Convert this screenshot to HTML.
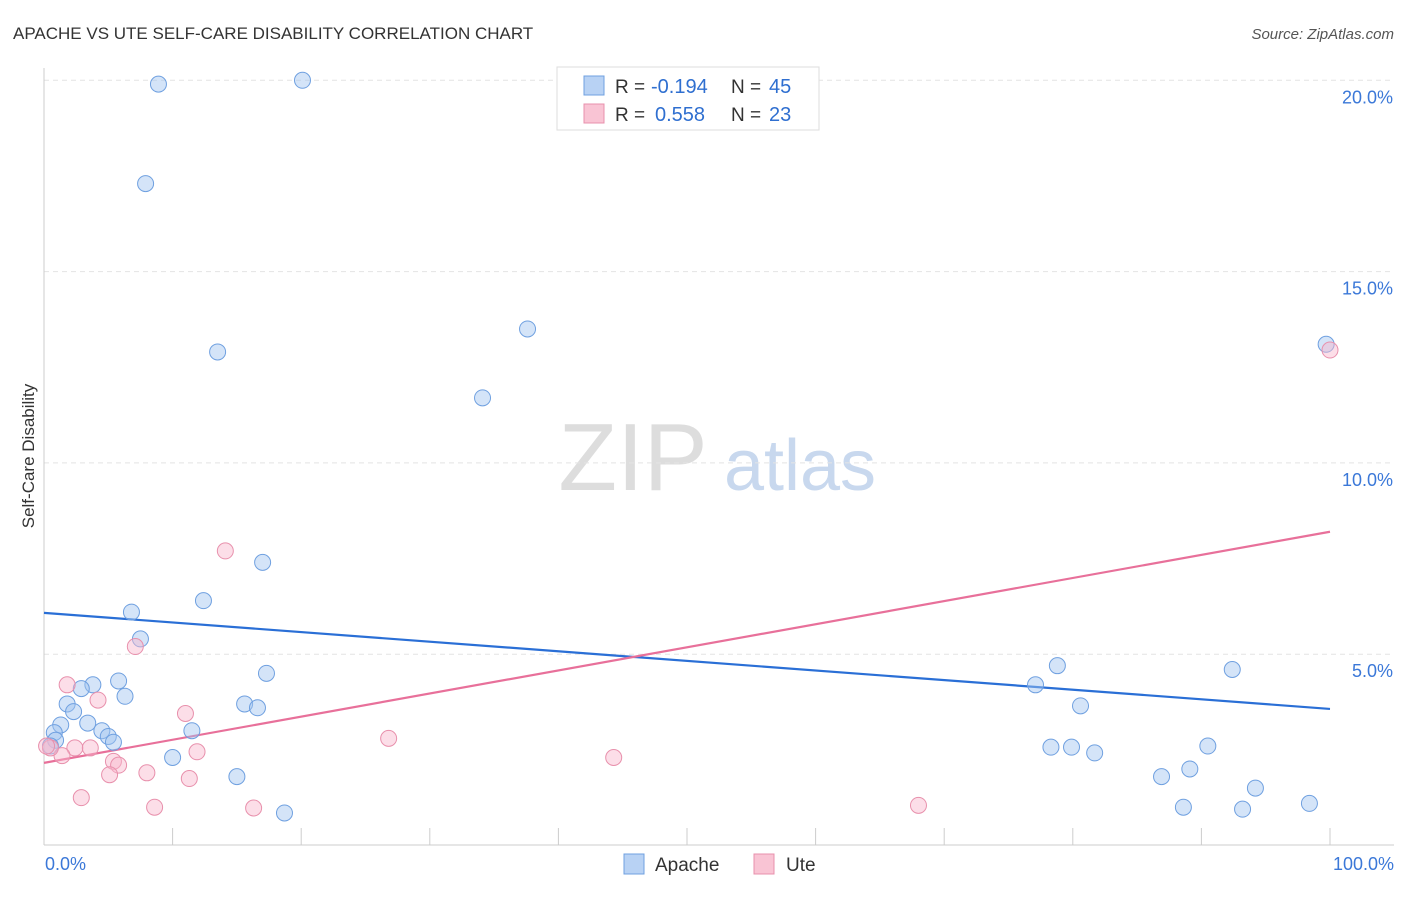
<!DOCTYPE html>
<html><head><meta charset="utf-8"><style>
body{margin:0;background:#fff;font-family:"Liberation Sans",sans-serif;}
svg text{font-family:"Liberation Sans",sans-serif;}
</style></head><body>
<svg id="c" width="1406" height="892" xmlns="http://www.w3.org/2000/svg">
<text x="13" y="39" font-size="17" fill="#333">APACHE VS UTE SELF-CARE DISABILITY CORRELATION CHART</text>
<text x="1394" y="39" font-size="15" font-style="italic" fill="#555" text-anchor="end">Source: ZipAtlas.com</text>
<text transform="translate(34,456) rotate(-90)" font-size="17" fill="#333" text-anchor="middle">Self-Care Disability</text>
<g><text x="633" y="490" font-size="96" font-family="Liberation Serif" fill="#ddd" text-anchor="middle">ZIP</text><text x="800" y="490" font-size="72" fill="#c8d8ee" text-anchor="middle">atlas</text></g>
<g id="grid"></g><g id="axes"></g><g id="trend"></g><g id="pts"></g>
<g>
<rect x="557" y="67" width="262" height="63" fill="#fff" stroke="#ddd"/>
<rect x="584" y="76" width="20" height="19" fill="#b8d2f4" stroke="#6fa0e0"/>
<rect x="584" y="104" width="20" height="19" fill="#f9c4d4" stroke="#e890ac"/>
<text x="615" y="93" font-size="19" fill="#333">R =</text><text x="651" y="93" font-size="20" fill="#2f6fd0">-0.194</text>
<text x="731" y="93" font-size="19" fill="#333">N =</text><text x="769" y="93" font-size="20" fill="#2f6fd0">45</text>
<text x="615" y="121" font-size="19" fill="#333">R =</text><text x="655" y="121" font-size="20" fill="#2f6fd0">0.558</text>
<text x="731" y="121" font-size="19" fill="#333">N =</text><text x="769" y="121" font-size="20" fill="#2f6fd0">23</text>
</g>
<g>
<rect x="624" y="854" width="20" height="20" fill="#b8d2f4" stroke="#6fa0e0"/><text x="655" y="871" font-size="19" fill="#333">Apache</text>
<rect x="754" y="854" width="20" height="20" fill="#f9c4d4" stroke="#e890ac"/><text x="786" y="871" font-size="19" fill="#333">Ute</text>
</g>
</svg>
<script>
const apacheX=[8.9,20.1,7.9,13.5,37.6,34.1,99.7,17.0,12.4,6.8,7.5,17.3,5.8,3.8,2.9,6.3,1.8,2.3,15.6,16.6,1.3,3.4,4.5,11.5,0.8,5.0,5.4,0.9,0.5,10.0,15.0,18.7,78.8,77.1,80.6,78.3,79.9,81.7,92.4,90.5,89.1,86.9,94.2,88.6,93.2,98.4];
const apacheY=[19.9,20.0,17.3,12.9,13.5,11.7,13.1,7.4,6.4,6.1,5.4,4.5,4.3,4.2,4.1,3.9,3.7,3.5,3.7,3.6,3.15,3.2,3.0,3.0,2.95,2.85,2.7,2.75,2.6,2.3,1.8,0.85,4.7,4.2,3.65,2.57,2.57,2.42,4.6,2.6,2.0,1.8,1.5,1.0,0.95,1.1];
const uteX=[14.1,7.1,1.8,4.2,11.0,26.8,2.4,3.6,11.9,1.4,0.5,5.4,5.8,8.0,5.1,11.3,2.9,8.6,16.3,44.3,68.0,100,0.2];
const uteY=[7.7,5.2,4.2,3.8,3.45,2.8,2.55,2.55,2.45,2.35,2.55,2.2,2.1,1.9,1.85,1.75,1.25,1.0,0.98,2.3,1.05,12.95,2.6];
const apacheTrend=[6.08,3.57];
const uteTrend=[2.16,8.2];
const yTicks=[5,10,15,20];
const xTicks=[0,10,20,30,40,50,60,70,80,90,100];
const X=v=>44+v*12.86, Y=v=>845.5-v*38.26;
const NS="http://www.w3.org/2000/svg";
function mk(p,t,a){const e=document.createElementNS(NS,t);for(const k in a)e.setAttribute(k,a[k]);document.getElementById(p).appendChild(e);return e;}
yTicks.forEach(t=>{
 const l=mk('grid','line',{x1:44,x2:1394,y1:Y(t),y2:Y(t),stroke:'#e4e4e4','stroke-dasharray':'5,4'});
 
 
 const tx=mk('grid','text',{x:1393,y:Y(t)+23,'font-size':18,fill:'#3b78d8','text-anchor':'end'});tx.textContent=t.toFixed(1)+'%';
 
 
});
const ax=mk('axes','line',{x1:44,x2:44,y1:68,y2:845,stroke:'#ccc'});


const bx=mk('axes','line',{x1:44,x2:1394,y1:845,y2:845,stroke:'#ccc'});


xTicks.forEach(t=>{const l=mk('axes','line',{x1:X(t),x2:X(t),y1:828,y2:845,stroke:'#ccc'});
 
 });
[[0,'0.0%','start',45],[100,'100.0%','end',1394]].forEach(([v,s,a,x])=>{const t=mk('axes','text',{x:x,y:870,'font-size':18,fill:'#3b78d8','text-anchor':a});t.textContent=s;
 
 });
const tb=mk('trend','line',{x1:X(0),x2:X(100),y1:Y(apacheTrend[0]),y2:Y(apacheTrend[1]),stroke:'#2a6fd6','stroke-width':2.2});


const tp=mk('trend','line',{x1:X(0),x2:X(100),y1:Y(uteTrend[0]),y2:Y(uteTrend[1]),stroke:'#e8709a','stroke-width':2.2});


apacheX.forEach((v,i)=>{const c=mk('pts','circle',{cx:X(v),cy:Y(apacheY[i]),r:8,fill:'rgba(160,196,240,0.45)',stroke:'#6fa0e0','stroke-width':1});
 
 });
uteX.forEach((v,i)=>{const c=mk('pts','circle',{cx:X(v),cy:Y(uteY[i]),r:8,fill:'rgba(248,182,204,0.45)',stroke:'#e890ac','stroke-width':1});
 
 });
</script>
</body></html>
